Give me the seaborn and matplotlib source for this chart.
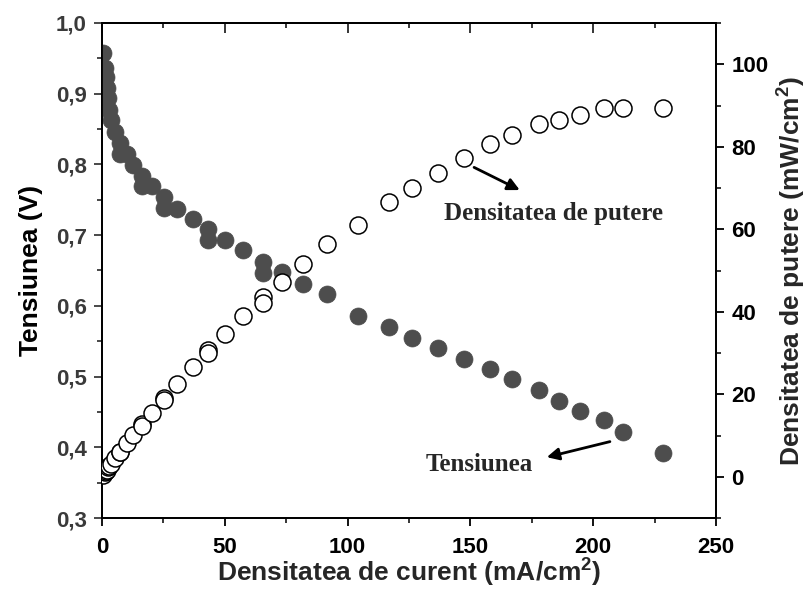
import matplotlib
matplotlib.use("Agg")
import matplotlib.pyplot as plt
from matplotlib.ticker import MultipleLocator, FuncFormatter
import seaborn as sns
import pandas as pd

# ---- data ----
current = [0.5, 1.2, 1.6, 1.9, 2.6, 3.0, 3.5, 5.3, 7.3, 7.3, 10.1, 12.7, 16.2, 16.2,
           20.2, 25.2, 25.2, 30.7, 36.9, 43.3, 43.3, 50.1, 57.5, 65.7, 65.4, 73.2,
           81.7, 91.7, 104.1, 117.0, 126.2, 136.7, 147.3, 158.1, 167.1, 177.8,
           186.2, 194.6, 204.4, 212.3, 228.5]
voltage = [0.958, 0.936, 0.924, 0.908, 0.894, 0.877, 0.863, 0.846, 0.830, 0.815,
           0.815, 0.799, 0.783, 0.769, 0.769, 0.754, 0.738, 0.737, 0.723, 0.708,
           0.693, 0.693, 0.679, 0.6625, 0.647, 0.6475, 0.631, 0.6165, 0.586, 0.570,
           0.555, 0.540, 0.525, 0.511, 0.496, 0.481, 0.466, 0.4515, 0.438, 0.421,
           0.3915]
power = [0.5, 1.1, 1.5, 1.7, 2.3, 2.6, 3.0, 4.5, 6.1, 5.9, 8.2, 10.1, 12.7, 12.4,
         15.5, 19.0, 18.6, 22.6, 26.7, 30.7, 30.0, 34.7, 39.0, 43.6, 42.2, 47.3,
         51.5, 56.4, 61.0, 66.6, 69.9, 73.7, 77.2, 80.7, 82.8, 85.5, 86.6, 87.6,
         89.4, 89.3, 89.4]

x_ticks = [0, 50, 100, 150, 200, 250]
v_ticks = [0.3, 0.4, 0.5, 0.6, 0.7, 0.8, 0.9, 1.0]
p_ticks = [0, 20, 40, 60, 80, 100]

df = pd.DataFrame({"current": current, "voltage": voltage, "power": power})

sns.set_style("ticks")
plt.rcParams["font.family"] = ["Liberation Sans", "DejaVu Sans"]
plt.rcParams["font.weight"] = "bold"
plt.rcParams["axes.labelweight"] = "bold"
plt.rcParams["mathtext.fontset"] = "custom"
plt.rcParams["mathtext.rm"] = "Liberation Sans:bold"
plt.rcParams["mathtext.bf"] = "Liberation Sans:bold"
plt.rcParams["mathtext.it"] = "Liberation Sans:bold"

fig = plt.figure(figsize=(8.1, 5.9), dpi=100)
ax = fig.add_axes([102 / 810, 72 / 590, 614 / 810, 495 / 590])
ax2 = ax.twinx()

gray = "#4d4d4d"
left_col = "#3a3a3a"

sns.scatterplot(data=df, x="current", y="voltage", ax=ax, color=gray,
                edgecolor=gray, linewidth=0.5, s=150, zorder=3)
sns.scatterplot(data=df, x="current", y="power", ax=ax2, color="white",
                edgecolor="black", linewidth=1.1, s=150, zorder=3)

ax.set_xlim(0, 250)
ax.set_ylim(0.3, 1.0)
ax2.set_ylim(-10, 110)

ax.set_xticks(x_ticks)
ax.set_yticks(v_ticks)
ax2.set_yticks(p_ticks)
ax.xaxis.set_minor_locator(MultipleLocator(25))
ax.yaxis.set_minor_locator(MultipleLocator(0.05))
ax2.yaxis.set_minor_locator(MultipleLocator(10))
ax.yaxis.set_major_formatter(FuncFormatter(lambda v, p: f"{v:.1f}".replace(".", ",")))

for a in (ax, ax2):
    for s in a.spines.values():
        s.set_linewidth(1.3)
        s.set_color("black")
        s.set_visible(True)

ax.tick_params(axis="x", which="major", direction="out", length=6, width=1.3,
               labelsize=16, pad=8, colors="black")
ax.tick_params(axis="x", which="minor", direction="out", length=3.5, width=1.3)
ax.tick_params(axis="y", which="major", direction="out", length=6, width=1.3,
               labelsize=16, pad=5, colors=left_col)
ax.tick_params(axis="y", which="minor", direction="out", length=3.5, width=1.3,
               colors=left_col)
ax2.tick_params(axis="y", which="major", direction="out", length=6, width=1.3,
                labelsize=16, pad=5, colors="black")
ax2.tick_params(axis="y", which="minor", direction="out", length=3.5, width=1.3)

# inward ticks on top edge
top = ax.secondary_xaxis("top")
top.set_xticks(x_ticks)
top.xaxis.set_minor_locator(MultipleLocator(25))
top.tick_params(axis="x", which="major", direction="in", length=7, width=1.3,
                labeltop=False)
top.tick_params(axis="x", which="minor", direction="in", length=3.5, width=1.3)
top.spines["top"].set_linewidth(1.3)

ax.set_xlabel(r"Densitatea de curent (mA/cm$^{2}$)", fontsize=19, labelpad=-1)
ax.set_ylabel("Tensiunea (V)", fontsize=19, labelpad=9, color="black")
ax2.set_ylabel(r"Densitatea de putere (mW/cm$^{2}$)", fontsize=19, labelpad=5)

serif = ["Liberation Serif", "DejaVu Serif"]
ax2.annotate("", xy=(170.1, 69.5), xytext=(151.5, 75.0),
             arrowprops=dict(arrowstyle="-|>", color="black", lw=2,
                             mutation_scale=18, shrinkA=0, shrinkB=0))
ax2.text(184, 63.9, "Densitatea de putere", family=serif, fontweight="bold",
         fontsize=18, ha="center", va="center")
ax.annotate("", xy=(181.1, 0.386), xytext=(206.8, 0.408),
            arrowprops=dict(arrowstyle="-|>", color="black", lw=2,
                            mutation_scale=18, shrinkA=0, shrinkB=0))
ax.text(153.5, 0.375, "Tensiunea", family=serif, fontweight="bold",
        fontsize=18, ha="center", va="center")

fig.savefig("out.png", dpi=100)
